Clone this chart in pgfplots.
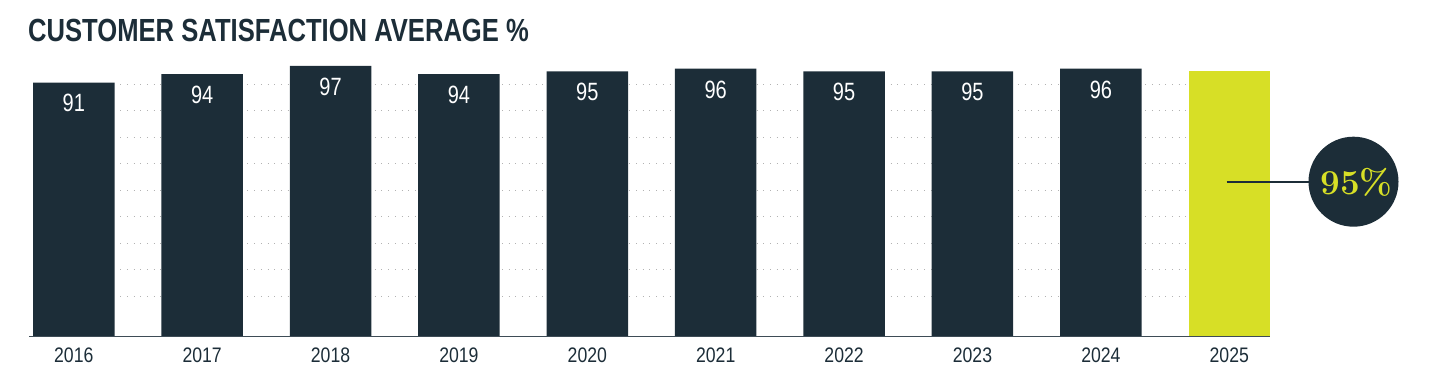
\documentclass[border=0pt]{standalone}
\usepackage{fontspec}
\usepackage{pgfplots}
\pgfplotsset{compat=1.18}
\newfontfamily\condA{Liberation Sans}[FakeStretch=0.8]
\newfontfamily\condB{Liberation Sans}[FakeStretch=0.84]
\definecolor{navy}{HTML}{1C2D38}
\definecolor{lime}{HTML}{D7DF26}
\begin{document}
\begin{tikzpicture}[x=1pt,y=1pt]
\useasboundingbox (0pt,0pt) rectangle (1431pt,380pt);
\node[anchor=base west, inner sep=0, text=navy, font=\condA\bfseries\fontsize{32}{32}\selectfont] at (28pt,338pt) {CUSTOMER SATISFACTION AVERAGE \%};
\begin{axis}[at={(33pt,43.5pt)}, anchor=south west, scale only axis,
  width=1237pt, height=279pt,
  xmin=-0.3175, xmax=9.3175, ymin=0, ymax=100,
  axis line style={draw=none},
  major tick length=0pt,
  ytick={14.4,23.9,33.4,42.9,52.4,61.9,71.4,80.9,90.4},
  yticklabels={},
  ymajorgrids,
  grid style={gray!60, line width=1pt, dash pattern=on 1pt off 5.7pt},
  xtick={0,...,9},
  xticklabels={2016,2017,2018,2019,2020,2021,2022,2023,2024,2025},
  xticklabel style={font=\condB\fontsize{21}{21}\selectfont, text=navy, inner sep=0pt, anchor=north, yshift=-11pt},
  /pgf/number format/assume math mode=true,
  clip=false,
]
\addplot[ybar, bar shift=0pt, bar width=81.5pt, fill=navy, draw=none,
  nodes near coords, point meta=y,
  nodes near coords style={font=\condA\fontsize{25}{25}\selectfont, text=white, anchor=north, inner sep=0pt, yshift=-11.7pt}]
  coordinates {(0,91) (1,94) (2,97) (3,94) (4,95) (5,96) (6,95) (7,95) (8,96)};
\addplot[ybar, bar shift=0pt, bar width=81.5pt, fill=lime, draw=none]
  coordinates {(9,95)};
\draw[navy!85, line width=1.5pt] (axis cs:-0.345,0) -- (axis cs:9.3175,0);
\end{axis}
\draw[navy, line width=2pt] (1226.7pt,198.3pt) -- (1312pt,198.3pt);
\fill[navy] (1353.5pt,198.3pt) circle (45pt);
\node[text=lime, inner sep=0, font=\bfseries\fontsize{35}{35}\selectfont, anchor=base] at (1356.5pt,185pt) {95\%};
\end{tikzpicture}
\end{document}
